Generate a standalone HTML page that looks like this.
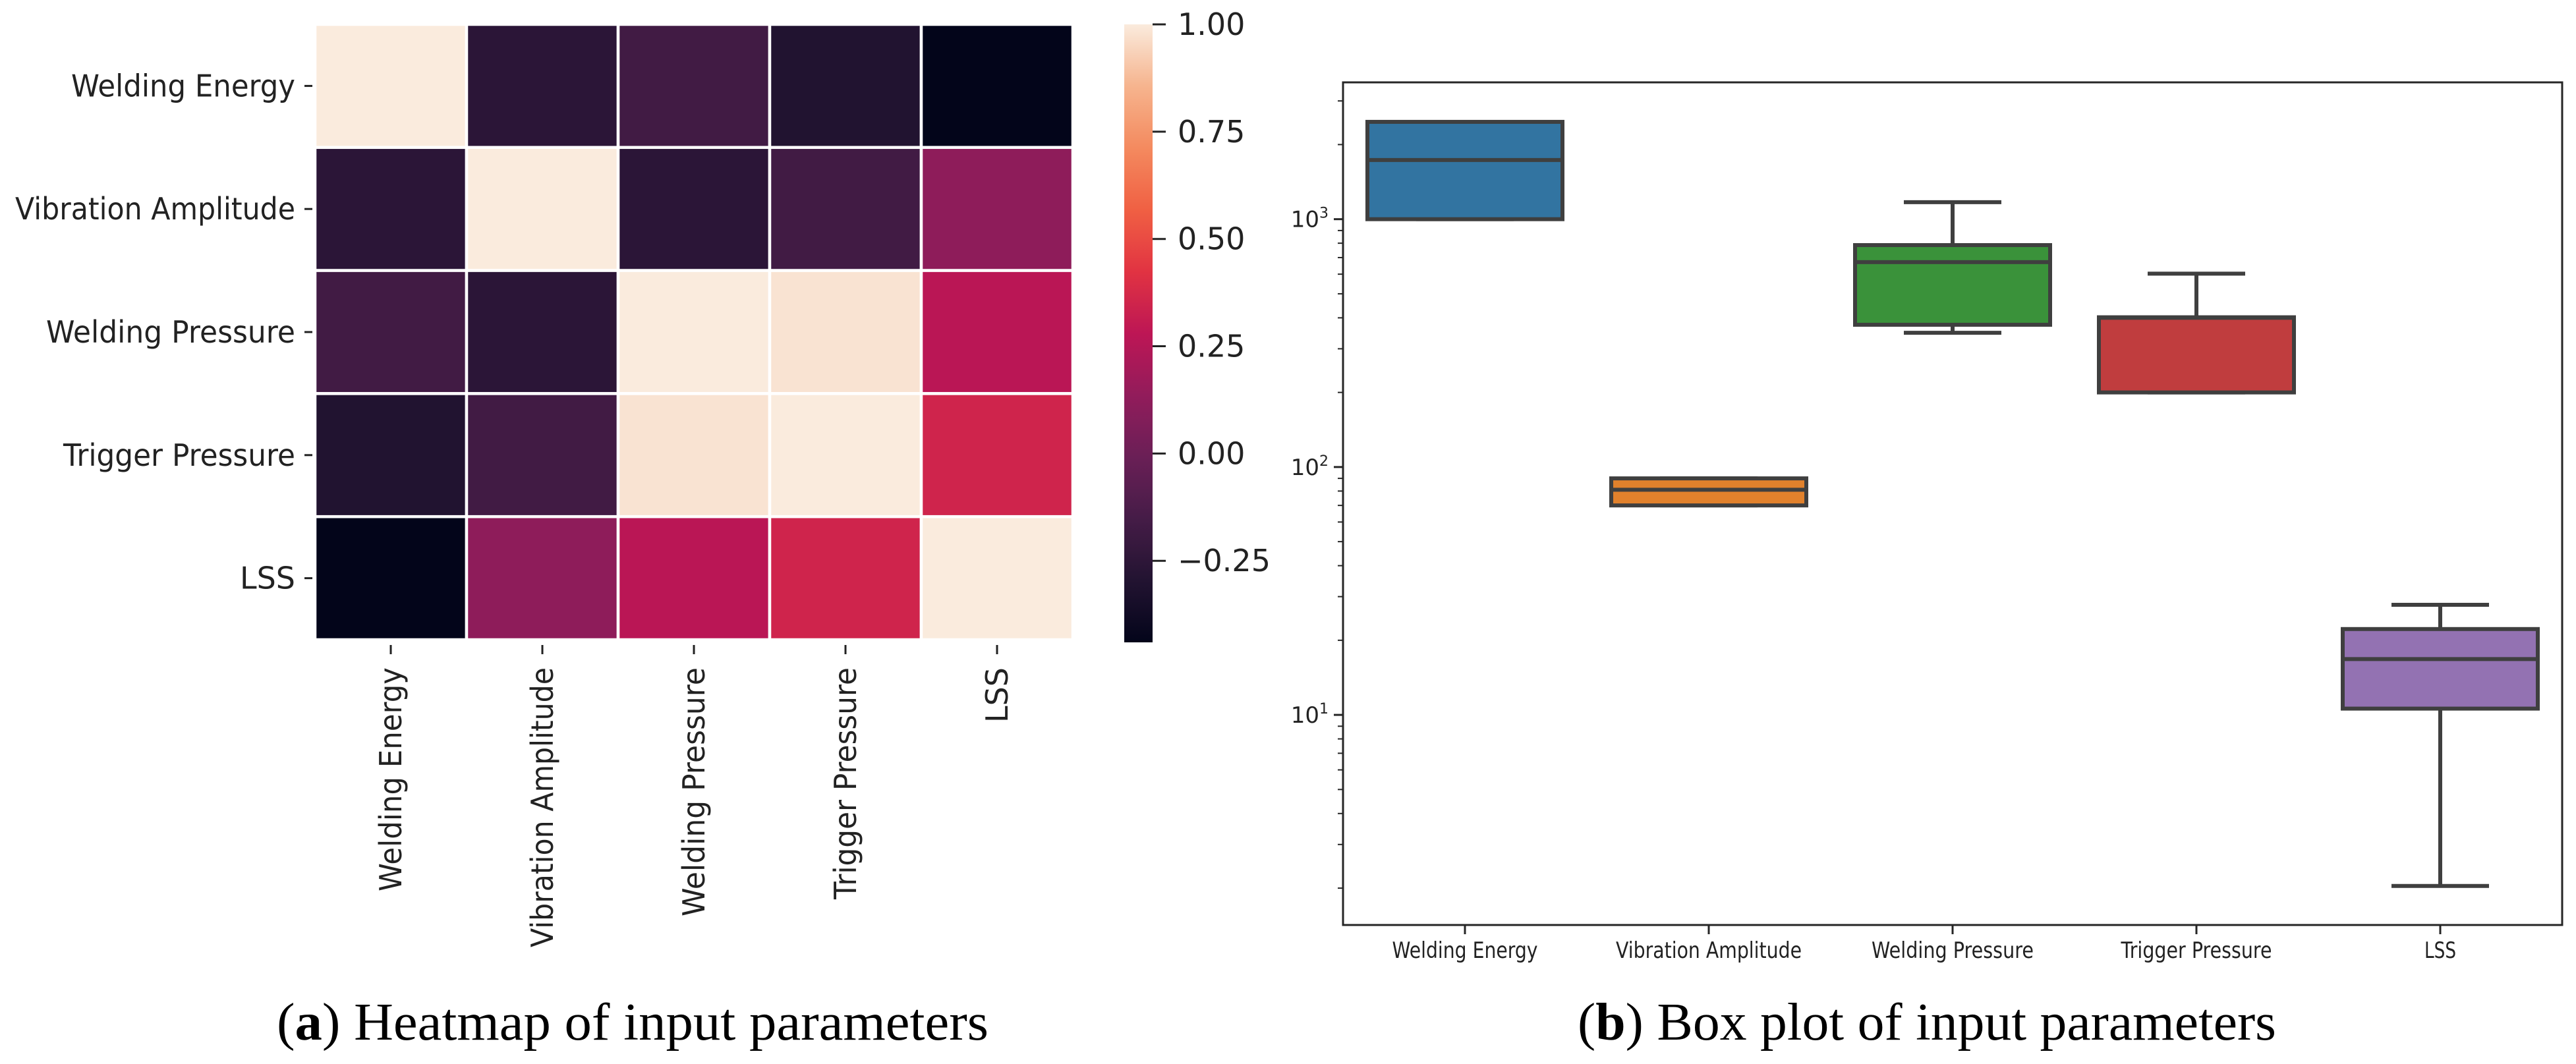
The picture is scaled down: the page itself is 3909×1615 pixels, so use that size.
<!DOCTYPE html>
<html><head><meta charset="utf-8">
<style>
html,body{margin:0;padding:0;background:#fff;}
svg{display:block;font-family:"DejaVu Sans","Liberation Sans",sans-serif;}
</style></head>
<body>
<svg id="fig" width="3909" height="1615" viewBox="0 0 3909 1615" xmlns="http://www.w3.org/2000/svg">
  <rect width="3909" height="1615" fill="#fff"/>
  <g id="heat"></g>
  <g id="box"></g>
  <text x="960" y="1578" text-anchor="middle" font-family="Liberation Serif, serif" font-size="80" textLength="1080" lengthAdjust="spacingAndGlyphs" fill="#000">(<tspan font-weight="bold">a</tspan>) Heatmap of input parameters</text>
  <text x="2924" y="1578" text-anchor="middle" font-family="Liberation Serif, serif" font-size="80" textLength="1060" lengthAdjust="spacingAndGlyphs" fill="#000">(<tspan font-weight="bold">b</tspan>) Box plot of input parameters</text>
</svg>
<script>
// ---------- Heatmap data ----------
const heatLabels = ["Welding Energy","Vibration Amplitude","Welding Pressure","Trigger Pressure","LSS"];
const corrRow0 = [1.00, -0.26, -0.17, -0.30, -0.44];
const corrRow1 = [-0.26, 1.00, -0.26, -0.17, 0.12];
const corrRow2 = [-0.17, -0.26, 1.00, 0.98, 0.27];
const corrRow3 = [-0.30, -0.17, 0.98, 1.00, 0.35];
const corrRow4 = [-0.44, 0.12, 0.27, 0.35, 1.00];
const cbarTicks = [1.00, 0.75, 0.50, 0.25, 0.00, -0.25];
const cbarTickLabels = ["1.00","0.75","0.50","0.25","0.00","\u22120.25"];
const vMin = -0.44, vMax = 1.0;

// ---------- Boxplot data ----------
const boxCats = ["Welding Energy","Vibration Amplitude","Welding Pressure","Trigger Pressure","LSS"];
const boxMin    = [1000, 70, 348, 200, 2.04];
const boxQ1     = [1000, 70, 375, 200, 10.6];
const boxMedian = [1733, 81, 671, 400, 16.8];
const boxQ3     = [2470, 90, 786, 402, 22.2];
const boxMax    = [2470, 90, 1171, 603, 27.8];
const boxColors = ["#3274a1","#e1812c","#3a923a","#c03d3e","#9372b2"];
const logTicks = [1, 2, 3];

const NS = "http://www.w3.org/2000/svg";
function mk(tag, attrs, parent){
  const e = document.createElementNS(NS, tag);
  for (const k in attrs) e.setAttribute(k, attrs[k]);
  parent.appendChild(e);
  return e;
}

const rocketStops = [[0,"#03051a"],[0.1,"#221331"],[0.2,"#451c47"],[0.3,"#6a1f56"],[0.4,"#921c5b"],[0.5,"#bd1655"],[0.6,"#e13342"],[0.7,"#f06043"],[0.8,"#f48a5f"],[0.9,"#f6b48e"],[1,"#faebdd"]];
function hex2rgb(h){return [1,3,5].map(i=>parseInt(h.substr(i,2),16));}
function rocket(t){
  t=Math.max(0,Math.min(1,t));
  for(let i=0;i<rocketStops.length-1;i++){
    const [a,ca]=rocketStops[i],[b,cb]=rocketStops[i+1];
    if(t<=b){const f=(t-a)/(b-a);const A=hex2rgb(ca),B=hex2rgb(cb);
      return "rgb("+A.map((v,j)=>Math.round(v+(B[j]-v)*f)).join(",")+")";}
  }
  return rocketStops[rocketStops.length-1][1];
}

// ---------- Heatmap ----------
const heat = document.getElementById("heat");
const corr = [corrRow0, corrRow1, corrRow2, corrRow3, corrRow4];
const hx0 = 478, hx1 = 1628, hy0 = 37, hy1 = 971;
const n = heatLabels.length;
const cw = (hx1-hx0)/n, ch = (hy1-hy0)/n;
function hX(i){return hx0 + i*cw;}
function hY(j){return hy0 + j*ch;}
const labelLen = {"Welding Energy":340,"Vibration Amplitude":425,"Welding Pressure":378,"Trigger Pressure":352,"LSS":84};
for (let r=0;r<n;r++){
  for (let c=0;c<n;c++){
    const cell = mk("rect",{x:hX(c),y:hY(r),width:cw,height:ch,fill:rocket((corr[r][c]-vMin)/(vMax-vMin)),stroke:"#fff","stroke-width":4.5},heat);
    
    
  }
  const yc = hY(r)+ch/2;
  const tk = mk("line",{x1:hx0-16,x2:hx0-4,y1:yc,y2:yc,stroke:"#222","stroke-width":3},heat);
  
  
  const t = mk("text",{x:hx0-30,y:yc+16,"text-anchor":"end","font-size":46,fill:"#222",textLength:labelLen[heatLabels[r]],lengthAdjust:"spacingAndGlyphs"},heat);
  t.textContent = heatLabels[r];
  
  
}
for (let c=0;c<n;c++){
  const xc = hX(c)+cw/2;
  const tk = mk("line",{x1:xc,x2:xc,y1:hy1+8,y2:hy1+22,stroke:"#222","stroke-width":3},heat);
  
  
  const t = mk("text",{x:0,y:0,"text-anchor":"end","font-size":46,fill:"#222",textLength:labelLen[heatLabels[c]],lengthAdjust:"spacingAndGlyphs",transform:"translate("+(xc+16)+","+(hy1+42)+") rotate(-90)"},heat);
  t.textContent = heatLabels[c];
  
  
}
const cbx0 = 1706, cbx1 = 1749, cby0 = 37, cby1 = 975;
function cbY(v){return cby1 - (v-vMin)/(vMax-vMin)*(cby1-cby0);}
const defs = mk("defs",{},heat);
const grad = mk("linearGradient",{id:"cbg",x1:0,y1:1,x2:0,y2:0},defs);
for (let i=0;i<=20;i++){ mk("stop",{offset:(i/20),"stop-color":rocket(i/20)},grad); }
const cbar = mk("rect",{x:cbx0,y:cby0,width:cbx1-cbx0,height:cby1-cby0,fill:"url(#cbg)"},heat);


cbarTicks.forEach((v,i)=>{
  const y = cbY(v);
  const tk = mk("line",{x1:cbx1,x2:cbx1+20,y1:y,y2:y,stroke:"#222","stroke-width":3},heat);
  
  
  const t = mk("text",{x:cbx1+38,y:y+16,"font-size":46,fill:"#222"},heat);
  t.textContent = cbarTickLabels[i];
  
  
});

// ---------- Box plot ----------
const box = document.getElementById("box");
const ax0 = 2038, ax1 = 3888, ay0 = 125, ay1 = 1404;
const yTop = Math.log10(3565), yBot = Math.log10(1.42);
function bY(v){return ay0 + (yTop-Math.log10(v))/(yTop-yBot)*(ay1-ay0);}
const pitch = (ax1-ax0)/boxCats.length;
function bX(i){return ax0 + pitch*(i+0.5);}
const bw = pitch*0.8;
const frame = mk("rect",{x:ax0,y:ay0,width:ax1-ax0,height:ay1-ay0,fill:"none",stroke:"#262626","stroke-width":3},box);


logTicks.forEach(p=>{
  const y = bY(Math.pow(10,p));
  const tk = mk("line",{x1:ax0-14,x2:ax0,y1:y,y2:y,stroke:"#262626","stroke-width":3},box);
  
  
  const t = mk("text",{x:ax0-22,y:y+12,"text-anchor":"end","font-size":34,fill:"#222"},box);
  t.textContent = "10";
  const s = mk("tspan",{dy:-14,"font-size":22},t);
  s.textContent = String(p);
  
  
});
for (let p=0;p<=3;p++){
  for (let m=2;m<=9;m++){
    const v = m*Math.pow(10,p);
    const y = bY(v);
    if (y<ay0||y>ay1) continue;
    const tk = mk("line",{x1:ax0-8,x2:ax0,y1:y,y2:y,stroke:"#262626","stroke-width":2},box);
    
    
  }
}
const catLen = [221, 282, 246, 229, 48];
boxCats.forEach((c,i)=>{
  const xc = bX(i);
  const g = mk("g",{},box);
  
  
  const lc = "#3f3f3f", lw = 6;
  mk("line",{x1:xc,x2:xc,y1:bY(boxMax[i]),y2:bY(boxQ3[i]),stroke:lc,"stroke-width":lw},g);
  mk("line",{x1:xc,x2:xc,y1:bY(boxQ1[i]),y2:bY(boxMin[i]),stroke:lc,"stroke-width":lw},g);
  mk("line",{x1:xc-bw/4,x2:xc+bw/4,y1:bY(boxMax[i]),y2:bY(boxMax[i]),stroke:lc,"stroke-width":lw},g);
  mk("line",{x1:xc-bw/4,x2:xc+bw/4,y1:bY(boxMin[i]),y2:bY(boxMin[i]),stroke:lc,"stroke-width":lw},g);
  mk("rect",{x:xc-bw/2,y:bY(boxQ3[i]),width:bw,height:bY(boxQ1[i])-bY(boxQ3[i]),fill:boxColors[i],stroke:lc,"stroke-width":lw},g);
  mk("line",{x1:xc-bw/2,x2:xc+bw/2,y1:bY(boxMedian[i]),y2:bY(boxMedian[i]),stroke:lc,"stroke-width":lw},g);
  const tk = mk("line",{x1:xc,x2:xc,y1:ay1,y2:ay1+14,stroke:"#262626","stroke-width":3},box);
  
  
  const t = mk("text",{x:xc,y:ay1+50,"text-anchor":"middle","font-size":34,fill:"#222",textLength:catLen[i],lengthAdjust:"spacingAndGlyphs"},box);
  t.textContent = c;
  
  
});
</script>
</body></html>
